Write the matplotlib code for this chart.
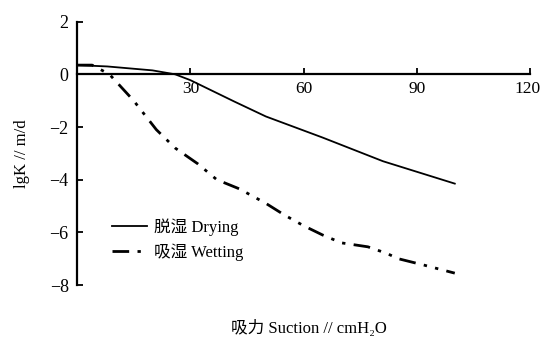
import matplotlib
matplotlib.use("Agg")
import matplotlib.pyplot as plt
from matplotlib.transforms import offset_copy

# data
dry_x = [0, 8, 20, 26, 30, 41.6, 50, 65, 81, 100]
dry_y = [0.35, 0.3, 0.15, 0.0, -0.22, -1.03, -1.6, -2.4, -3.3, -4.15]

wet_x = [0, 4, 6, 8.6, 15, 21, 26, 32, 37, 43, 50, 55, 60, 65, 70, 77, 82, 85, 92, 100]
wet_y = [0.35, 0.35, 0.2, 0.0, -1.0, -2.1, -2.8, -3.4, -4.0, -4.35, -4.9, -5.35,
         -5.75, -6.1, -6.4, -6.55, -6.8, -7.0, -7.25, -7.55]

x_ticks = [30, 60, 90, 120]
y_ticks = [2, 0, -2, -4, -6, -8]

plt.rcParams['font.family'] = ['Liberation Serif', 'Noto Sans CJK SC']

fig = plt.figure(figsize=(5.41, 3.44), dpi=100)
ax = fig.add_axes([0.1423, 0.1715, 0.838, 0.7655])

ax.plot(dry_x, dry_y, color='black', linewidth=1.3, label='脱湿 Drying')
ax.plot(wet_x, wet_y, color='black', linewidth=2.0,
        linestyle=(0, (6, 3, 1.2, 3, 1.2, 3)), label='吸湿 Wetting')

ax.set_xlim(0, 120)
ax.set_ylim(-8, 2)
ax.set_xticks(x_ticks)
ax.set_yticks(y_ticks)
ax.set_yticklabels(['2', '0', '\u22122', '\u22124', '\u22126', '\u22128'])

ax.spines['top'].set_visible(False)
ax.spines['right'].set_visible(False)
ax.spines['bottom'].set_position(('data', 0))
ax.spines['bottom'].set_linewidth(1.6)
ax.spines['left'].set_linewidth(1.6)
ax.tick_params(axis='x', direction='in', length=4, width=1.3, labelsize=12.5, pad=5)
ax.tick_params(axis='y', direction='in', length=4, width=1.3, labelsize=13, pad=6)

# keep the "120" label inside the figure
last = ax.get_xticklabels()[-1]
last.set_transform(offset_copy(last.get_transform(), fig=fig, x=-3, units='dots'))

ax.set_ylabel('lgK // m/d', fontsize=12, labelpad=14)
fig.text(0.571, 0.045, '吸力 Suction // cmH\u2082O', fontsize=12, ha='center', va='center')

ax.legend(loc='upper left', bbox_to_anchor=(0.045, 0.31), frameon=False,
          fontsize=12, handlelength=2.1, handletextpad=0.4, labelspacing=0.45)

fig.savefig('out.png', dpi=100)
